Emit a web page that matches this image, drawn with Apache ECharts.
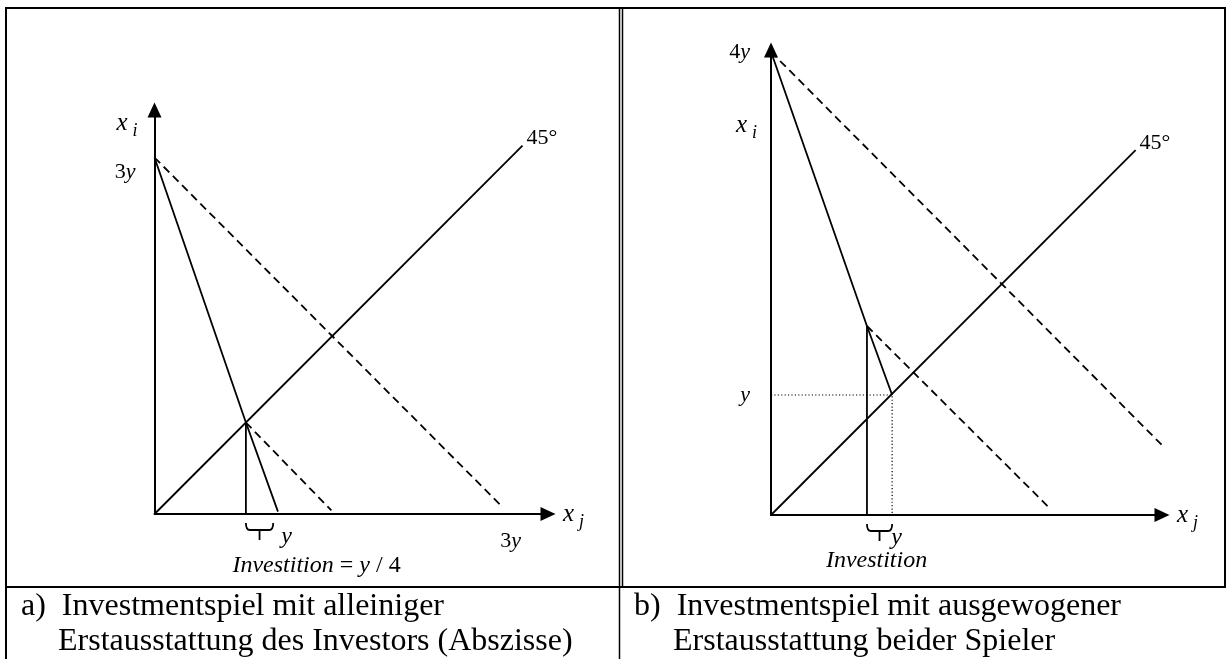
<!DOCTYPE html>
<html><head><meta charset="utf-8">
<script src="https://cdn.jsdelivr.net/npm/echarts@6/dist/echarts.min.js"></script>
<style>html,body{margin:0;padding:0;background:#fff}#c{width:1229px;height:659px}</style>
</head><body><div id="c"></div>
<script>
// ---- data (in units of the endowment y) ----
// panel a)
const leftDiagonal   = [[0, 0], [3.1, 3.1]];
const leftTransfer   = [[0, 3], [0.77, 0.77], [1.04, 0.02]];
const leftInvestLine = [[0.77, 0], [0.77, 0.77]];
const leftBudgetHigh = [[0, 3], [2.91, 0.08]];
const leftBudgetLow  = [[0.77, 0.77], [1.49, 0.03]];
const leftBrace      = [0.77, 1.0];
const leftAxisMax    = [3.315, 3.40];
const leftYTicks = [3];    const leftYTickLabels = ['3y'];
const leftXTicks = [3];    const leftXTickLabels = ['3y'];
const leftBraceLabel = 'y';
const leftInvestText = ['Investition', ' = ', 'y', ' / 4'];
// panel b)
const rightDiagonal   = [[0, 0], [3.04, 3.04]];
const rightTransfer   = [[0, 3.86], [0.8, 1.575], [1.01, 1.0]];
const rightInvestLine = [[0.8, 0], [0.8, 1.575]];
const rightBudgetHigh = [[0, 3.86], [3.66, 0.18]];
const rightBudgetLow  = [[0.8, 1.575], [2.32, 0.06]];
const rightEndowment  = [[0, 1], [1.01, 1], [1.01, 0]];
const rightBrace      = [0.8, 1.01];
const rightAxisMax    = [3.26, 3.875];
const rightYTicks = [3.86, 1]; const rightYTickLabels = ['4y', 'y'];
const rightXTicks = [];        const rightXTickLabels = [];
const rightBraceLabel = 'y';
const rightInvestText = ['Investition'];
// texts
const angleLabel = '45°';
const xAxisName = ['x', 'j'];
const yAxisName = ['x', 'i'];
const captionA = ['a)  Investmentspiel mit alleiniger', 'Erstausstattung des Investors (Abszisse)'];
const captionB = ['b)  Investmentspiel mit ausgewogener', 'Erstausstattung beider Spieler'];

// ---- styles ----
const FF = '"Liberation Serif", "Times New Roman", serif';
const RICH = {
  n:  {fontFamily: FF, fontSize: 22, color: '#000'},
  i:  {fontFamily: FF, fontSize: 22, fontStyle: 'italic', color: '#000'},
  bn: {fontFamily: FF, fontSize: 24, color: '#000'},
  bi: {fontFamily: FF, fontSize: 24, fontStyle: 'italic', color: '#000'},
  x:  {fontFamily: FF, fontSize: 25, fontStyle: 'italic', color: '#000'},
  s:  {fontFamily: FF, fontSize: 18, fontStyle: 'italic', color: '#000', padding: [16, 0, 0, 5]}
};
function toRich(s) {
  const m = s.match(/^(\d*)(.*)$/);
  return (m[1] ? '{n|' + m[1] + '}' : '') + (m[2] ? '{i|' + m[2] + '}' : '');
}
function tickFormatter(ticks, labels) {
  return function (v) {
    const k = ticks.findIndex(t => Math.abs(t - v) < 1e-6);
    return k < 0 ? '' : toRich(labels[k]);
  };
}
const AXIS_LINE = {show: true, onZero: false, symbol: ['none', 'triangle'], symbolSize: [14, 15],
  lineStyle: {color: '#000', width: 2}};

function xAxisCfg(gi, max, ticks, labels) {
  return {
    type: 'value', gridIndex: gi, min: 0, max: max,
    splitLine: {show: false}, axisTick: {show: false}, axisLine: AXIS_LINE,
    axisLabel: {show: ticks.length > 0, customValues: ticks, formatter: tickFormatter(ticks, labels),
      margin: 16, rich: RICH, color: '#000'},
    name: '{x|' + xAxisName[0] + '}{s|' + xAxisName[1] + '}', nameLocation: 'end', nameGap: 15,
    nameMoveOverlap: false,
    nameTextStyle: {align: 'left', verticalAlign: 'middle', rich: RICH}
  };
}
function yAxisCfg(gi, max, ticks, labels, labelPad, labelMargin, nameGap, namePad) {
  return {
    type: 'value', gridIndex: gi, min: 0, max: max,
    splitLine: {show: false}, axisTick: {show: false}, axisLine: AXIS_LINE,
    axisLabel: {show: ticks.length > 0, customValues: ticks, formatter: tickFormatter(ticks, labels),
      margin: labelMargin, padding: labelPad, rich: RICH, color: '#000'},
    name: '{x|' + yAxisName[0] + '}{s|' + yAxisName[1] + '}', nameLocation: 'end', nameGap: nameGap,
    nameMoveOverlap: false,
    nameTextStyle: {align: 'right', verticalAlign: 'middle', padding: [0, namePad, 0, 0], rich: RICH}
  };
}
function line(gi, data, type, width) {
  return {type: 'line', xAxisIndex: gi, yAxisIndex: gi, data: data, symbol: 'none', silent: true,
    animation: false, clip: false, lineStyle: {color: '#000', width: width || 1.8, type: type}};
}
function diagonal(gi, data) {
  const s = line(gi, data, 'solid', 1.8);
  s.endLabel = {show: true, formatter: angleLabel, distance: 4, offset: [0, -7],
    fontFamily: FF, fontSize: 22, color: '#000'};
  return s;
}
function brace(gi, br, yLabel, yLabelDx, investParts, investDx, investDy) {
  return {
    type: 'custom', xAxisIndex: gi, yAxisIndex: gi, data: [br], clip: false, silent: true, animation: false,
    renderItem: function (params, api) {
      const p0 = api.coord([br[0], 0]), p1 = api.coord([br[1], 0]);
      const ax = p0[1], y0 = ax + 9, y1 = ax + 16, y2 = ax + 26, xm = (p0[0] + p1[0]) / 2;
      const d = 'M' + p0[0] + ',' + y0 + ' Q' + p0[0] + ',' + y1 + ' ' + (p0[0] + 4) + ',' + y1 +
        ' L' + (p1[0] - 4) + ',' + y1 + ' Q' + p1[0] + ',' + y1 + ' ' + p1[0] + ',' + y0 +
        ' M' + xm + ',' + y1 + ' L' + xm + ',' + y2;
      const rich = investParts.map((t, k) => (k % 2 === 0 ? '{bi|' + t + '}' : '{bn|' + t + '}')).join('');
      return {type: 'group', children: [
        {type: 'path', shape: {pathData: d}, style: {stroke: '#000', fill: null, lineWidth: 1.8}},
        {type: 'text', x: p1[0] + yLabelDx, y: ax + 23,
          style: {text: '{bi|' + yLabel + '}', rich: RICH, align: 'left', verticalAlign: 'middle'}},
        {type: 'text', x: xm + investDx, y: ax + investDy,
          style: {text: rich, rich: RICH, align: 'center', verticalAlign: 'middle'}}
      ]};
    }
  };
}

// frame & captions (decoration)
function frameLine(x1, y1, x2, y2, w) {
  return {type: 'line', shape: {x1: x1, y1: y1, x2: x2, y2: y2}, style: {stroke: '#000', lineWidth: w}, silent: true};
}
function caption(x, y, text) {
  return {type: 'text', x: x, y: y, silent: true,
    style: {text: text, fontFamily: FF, fontSize: 32, fill: '#000', align: 'left', verticalAlign: 'middle'}};
}

const chart = echarts.init(document.getElementById('c'), null, {renderer: 'canvas'});
chart.setOption({
  animation: false,
  backgroundColor: '#fff',
  grid: [
    {left: 154.5, top: 110, width: 393.5, height: 404, outerBoundsMode: 'none', containLabel: false},
    {left: 771, top: 50, width: 391, height: 465, outerBoundsMode: 'none', containLabel: false}
  ],
  xAxis: [
    xAxisCfg(0, leftAxisMax[0], leftXTicks, leftXTickLabels),
    xAxisCfg(1, rightAxisMax[0], rightXTicks, rightXTickLabels)
  ],
  yAxis: [
    yAxisCfg(0, leftAxisMax[1], leftYTicks, leftYTickLabels, [30, 0, 0, 0], 19, -13, 17),
    yAxisCfg(1, rightAxisMax[1], rightYTicks, rightYTickLabels, 0, 21, -75, 14)
  ],
  series: [
    diagonal(0, leftDiagonal),
    line(0, leftTransfer, 'solid'),
    line(0, leftInvestLine, 'solid'),
    line(0, leftBudgetHigh, [8, 5]),
    line(0, leftBudgetLow, [8, 5]),
    brace(0, leftBrace, leftBraceLabel, 8, leftInvestText, 57, 52),
    diagonal(1, rightDiagonal),
    line(1, rightTransfer, 'solid'),
    line(1, rightInvestLine, 'solid'),
    line(1, rightBudgetHigh, [8, 5]),
    line(1, rightBudgetLow, [8, 5]),
    line(1, rightEndowment, [1.2, 2.2], 1.2),
    brace(1, rightBrace, rightBraceLabel, -1, rightInvestText, -3, 46)
  ],
  graphic: [
    frameLine(5, 8, 1226, 8, 2),
    frameLine(6, 8, 6, 659, 2),
    frameLine(619.5, 8, 619.5, 659, 1.5),
    frameLine(622.5, 8, 622.5, 587, 1.5),
    frameLine(1225, 8, 1225, 587, 2),
    frameLine(5, 587, 1226, 587, 2),
    caption(21, 607, captionA[0]),
    caption(58, 642, captionA[1]),
    caption(634, 607, captionB[0]),
    caption(673, 642, captionB[1])
  ]
});
</script></body></html>
